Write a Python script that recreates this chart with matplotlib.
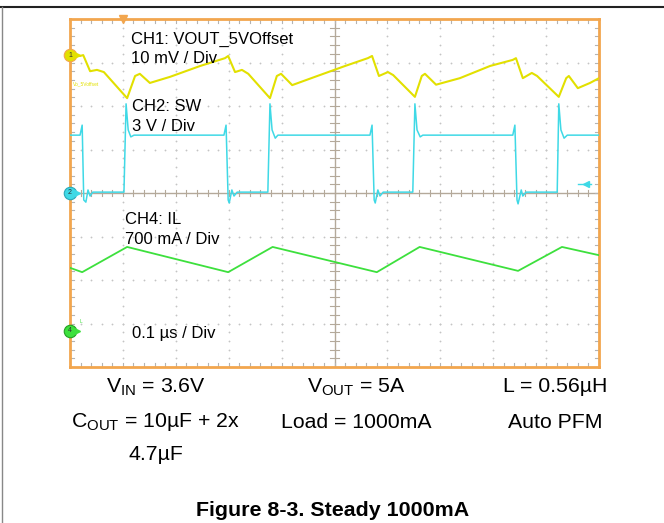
import matplotlib
matplotlib.use("Agg")
import matplotlib.pyplot as plt
import numpy as np

plt.rcParams['font.family'] = ['Liberation Sans', 'DejaVu Sans']
plt.rcParams['mathtext.fontset'] = 'custom'
plt.rcParams['mathtext.rm'] = 'Liberation Sans'

# scope traces: time in ns (0.1 us / div), level in divisions from bottom (0..8)
ch1_t = [0, 19, 25, 38, 51, 64, 108, 123, 132, 151, 189, 246, 293, 299, 312, 325, 337, 378,
         391, 399, 420, 463, 520, 563, 571, 584, 601, 611, 652, 665, 671, 692, 737, 794, 837,
         843, 856, 873, 883, 924, 938, 943, 960, 983, 1000]
ch1_v = [7.15, 7.15, 7.17, 6.80, 6.83, 6.78, 6.18, 6.69, 6.74, 6.53, 6.67, 6.92, 7.10, 7.15,
         6.78, 6.83, 6.74, 6.18, 6.69, 6.74, 6.48, 6.67, 6.92, 7.10, 7.15, 6.69, 6.78, 6.71,
         6.21, 6.69, 6.74, 6.49, 6.64, 6.92, 7.06, 7.10, 6.64, 6.76, 6.69, 6.21, 6.64, 6.69,
         6.41, 6.53, 6.64]

ch2_t = [0, 19, 23, 26, 30, 34, 38, 43, 102, 106, 110, 115, 121, 291, 295, 299, 301, 306, 310,
         316, 374, 378, 382, 388, 393, 567, 571, 575, 577, 582, 586, 592, 648, 652, 656, 662, 667,
         837, 841, 845, 847, 853, 856, 862, 921, 924, 928, 934, 940, 1000]
ch2_v = [5.33, 5.33, 5.56, 3.84, 3.79, 4.07, 3.93, 4.02, 4.02, 6.05, 5.45, 5.29, 5.33, 5.33,
         5.56, 3.84, 3.77, 4.07, 3.93, 4.02, 4.02, 6.05, 5.45, 5.26, 5.33, 5.33, 5.56, 3.84,
         3.77, 4.07, 3.93, 4.02, 4.02, 6.05, 5.45, 5.29, 5.33, 5.33, 5.56, 3.84, 3.75, 4.07,
         3.93, 4.02, 4.02, 6.05, 5.45, 5.26, 5.33, 5.33]

ch4_t = [0, 23, 108, 299, 383, 580, 661, 847, 930, 1000]
ch4_v = [2.28, 2.18, 2.76, 2.18, 2.76, 2.18, 2.76, 2.21, 2.76, 2.57]

ch_labels = ["CH1: VOUT_5VOffset\n10 mV / Div", "CH2: SW\n3 V / Div",
             "CH4: IL\n700 mA / Div", "0.1 \u00b5s / Div"]
cond_rows = [["V$_\\mathregular{IN}$ = 3.6V", "V$_\\mathregular{OUT}$ = 5A", "L = 0.56\u00b5H"],
             ["C$_\\mathregular{OUT}$ = 10\u00b5F + 2x", "Load = 1000mA", "Auto PFM"],
             ["4.7\u00b5F", "", ""]]
caption = "Figure 8-3. Steady 1000mA"

YELLOW = '#e2e000'
CYAN = '#3fd9e6'
GREEN = '#3de03d'
ORANGE = '#f2a64e'

fig = plt.figure(figsize=(6.64, 5.23), dpi=100)
ax = fig.add_axes([70 / 664, 1 - 367 / 523, 529 / 664, 348 / 523])
ax.set_xlim(0, 1000)
ax.set_ylim(0, 8)
ax.set_xticks([])
ax.set_yticks([])
for s in ax.spines.values():
    s.set_color(ORANGE)
    s.set_linewidth(2)

# dotted graticule
dot_x = np.arange(0, 1001, 20)
dot_y = np.arange(0, 8.01, 0.2)
for gx in range(100, 1000, 100):
    if gx != 500:
        ax.plot(np.full(len(dot_y), gx), dot_y, ls='none', marker='o', ms=1.3,
                color='#c4c4c4', mew=0)
for gy in range(1, 8):
    if gy != 4:
        ax.plot(dot_x, np.full(len(dot_x), gy), ls='none', marker='o', ms=1.3,
                color='#c4c4c4', mew=0)
# center cross with ticks
ax.axvline(500, color='#b4a99a', lw=1)
ax.axhline(4, color='#b4a99a', lw=1)
for tx in dot_x:
    ax.plot([tx, tx], [3.92, 4.08], color='#b4a99a', lw=0.8)
    ax.plot([tx, tx], [8, 7.9], color='#b4b4b4', lw=0.8)
    ax.plot([tx, tx], [0, 0.1], color='#b4b4b4', lw=0.8)
for ty in dot_y:
    ax.plot([492, 508], [ty, ty], color='#b4a99a', lw=0.8)
    ax.plot([0, 8], [ty, ty], color='#b4b4b4', lw=0.8)
    ax.plot([992, 1000], [ty, ty], color='#b4b4b4', lw=0.8)

ax.plot(ch4_t, ch4_v, color=GREEN, lw=1.3, zorder=5)
ax.plot(ch2_t, ch2_v, color=CYAN, lw=1.1, zorder=6)
ax.plot(ch1_t, ch1_v, color=YELLOW, lw=1.5, zorder=7)

# channel markers
for lvl, col, edge, num in [(7.17, YELLOW, ORANGE, '1'), (4.0, CYAN, '#2aa8b8', '2'),
                             (0.83, GREEN, '#22a022', '4')]:
    ax.plot([0], [lvl], marker='o', ms=9, color=col, mec=edge, mew=0.8,
            clip_on=False, zorder=10)
    ax.text(0, lvl, num, ha='center', va='center', fontsize=5, color='#333333',
            zorder=11, clip_on=False)
    ax.plot([14], [lvl], marker='>', ms=4, color=col, zorder=10)
ax.plot([100], [8], marker='v', ms=6, color=ORANGE, clip_on=False, zorder=10)
ax.plot([975], [4.2], marker='<', ms=5, color=CYAN, zorder=10)
ax.plot([960, 985], [4.2, 4.2], color=CYAN, lw=1, zorder=10)
ax.text(5, 6.5, 'Vo_5Voffset', fontsize=3.5, color=YELLOW, va='center')
ax.text(18, 1.05, 'L', fontsize=3.5, color=GREEN, va='center')

# scope annotations
ax.text(116, 7.31, ch_labels[0], fontsize=12, va='center', linespacing=1.4, zorder=12)
ax.text(118, 5.75, ch_labels[1], fontsize=12, va='center', linespacing=1.4, zorder=12)
ax.text(104, 3.16, ch_labels[2], fontsize=12, va='center', linespacing=1.4, zorder=12)
ax.text(118, 0.78, ch_labels[3], fontsize=12, va='center', zorder=12)

# test conditions below the scope
col_x = [156, 356, 555]
row_y = [387, 422, 455]
for r, row in enumerate(cond_rows):
    for c, txt in enumerate(row):
        if txt:
            fig.text(col_x[c] / 664, 1 - row_y[r] / 523, txt, ha='center', va='center',
                     fontsize=15.3)
fig.text(333 / 664, 1 - 510 / 523, caption, ha='center', va='center', fontsize=15.4,
         fontweight='bold')

# page frame
fig.add_artist(plt.Line2D([0, 1], [1 - 7 / 523, 1 - 7 / 523], color='#222222', lw=1.5))
fig.add_artist(plt.Line2D([1.5 / 664, 1.5 / 664], [0, 1 - 7 / 523], color='#888888', lw=1))

fig.savefig('out.png', dpi=100)
